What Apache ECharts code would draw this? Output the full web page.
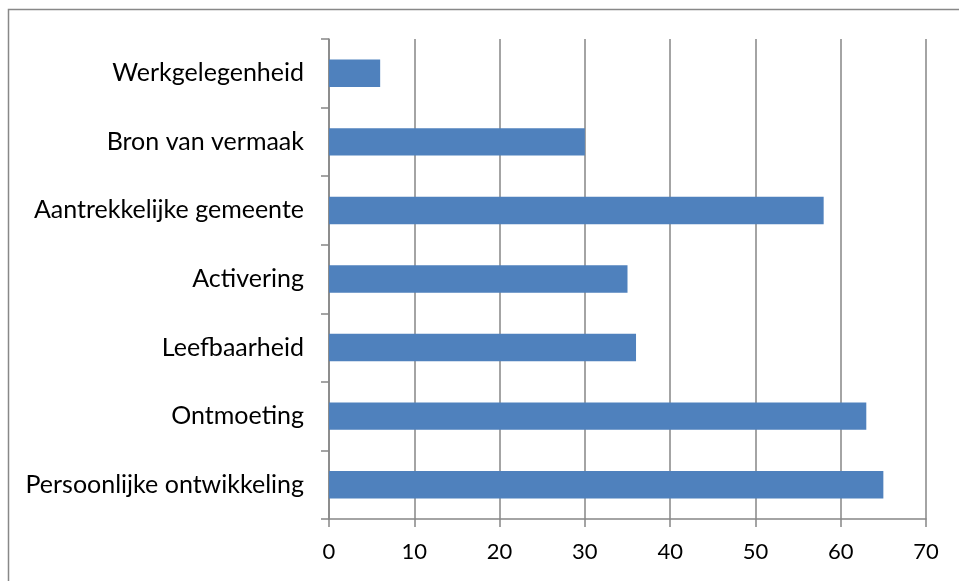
<!DOCTYPE html>
<html>
<head>
<meta charset="utf-8">
<script src="https://cdn.jsdelivr.net/npm/echarts@6/dist/echarts.min.js"></script>
<style>
html,body{margin:0;padding:0;background:#fff;}
#chart{width:959px;height:581px;}
</style>
</head>
<body>
<div id="chart"></div>
<script>
// categories listed bottom -> top
var categories = ['Persoonlijke ontwikkeling','Ontmoeting','Leefbaarheid','Activering','Aantrekkelijke gemeente','Bron van vermaak','Werkgelegenheid'];
var values = [65, 63, 36, 35, 58, 30, 6];
var xTicks = [0, 10, 20, 30, 40, 50, 60, 70];

var chart = echarts.init(document.getElementById('chart'));
var option = {
    animation:false,
    graphic:[{
        type:'rect',
        shape:{x:8.5,y:9.5,width:1200,height:1200},
        style:{fill:'none',stroke:'#888888',lineWidth:1.5},
        silent:true
    }],
    grid:{
        left:329,
        right:33,
        top:39,
        bottom:62
    },
    xAxis:{
        type:'value',
        min:xTicks[0],
        max:xTicks[xTicks.length-1],
        interval:10,
        axisLine:{show:true,lineStyle:{color:'#868686',width:1.5}},
        axisTick:{show:true,length:8,lineStyle:{color:'#868686',width:1.5}},
        axisLabel:{
            color:'#000',
            fontFamily:'Lato',
            fontSize:22,
            margin:22
        },
        splitLine:{show:true,lineStyle:{color:'#868686',width:1.5}}
    },
    yAxis:{
        type:'category',
        data:categories,
        axisLine:{show:true,lineStyle:{color:'#868686',width:1.5}},
        axisTick:{show:true,length:8,lineStyle:{color:'#868686',width:1.5}},
        axisLabel:{
            color:'#000',
            fontFamily:'Lato',
            fontSize:25,
            margin:25
        }
    },
    series:[{
        type:'bar',
        data:values,
        barCategoryGap:'60%',
        itemStyle:{color:'#4f81bd'}
    }]
};
chart.setOption(option);
</script>
</body>
</html>
